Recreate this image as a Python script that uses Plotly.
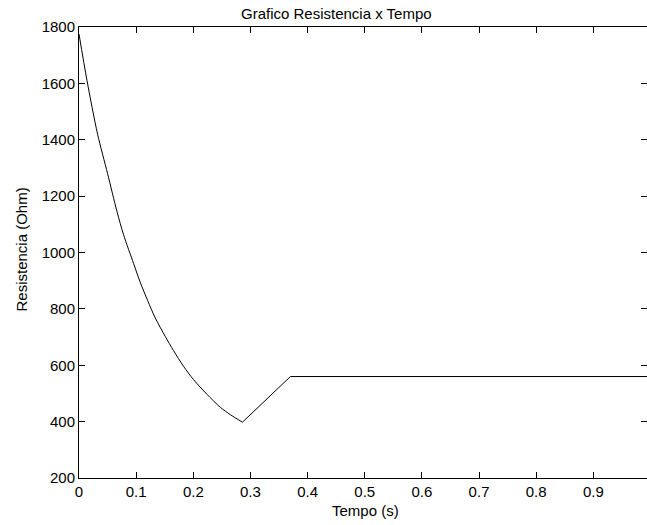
import plotly.graph_objects as go

# Data
# decaying part (t = 0 ... minimum)
tempo_queda = [0.0, 0.014, 0.0325, 0.05, 0.0665, 0.078, 0.0955, 0.107, 0.12, 0.1334,
               0.151, 0.1654, 0.183, 0.2004, 0.2239, 0.2472, 0.2646, 0.286]
resist_queda = [1775, 1610, 1420, 1280, 1145, 1063, 961, 895, 830, 768,
                702, 652, 596, 549, 497, 451, 425, 398]
# linear rise and plateau
tempo_subida = [0.286, 0.37, 0.999]
resist_subida = [398, 560, 560]

x_ticks = [0, 0.1, 0.2, 0.3, 0.4, 0.5, 0.6, 0.7, 0.8, 0.9]
x_tick_labels = ["0", "0.1", "0.2", "0.3", "0.4", "0.5", "0.6", "0.7", "0.8", "0.9"]
y_ticks = [200, 400, 600, 800, 1000, 1200, 1400, 1600, 1800]

W, H = 647, 525
L, R, T, B = 79, 0, 27, 47
FONT = "Liberation Sans, Arial, Helvetica, sans-serif"
FS = 15

fig = go.Figure()
fig.add_trace(go.Scatter(x=tempo_queda, y=resist_queda, mode="lines",
                         line=dict(color="black", width=1, shape="spline", smoothing=0.8),
                         showlegend=False, hoverinfo="skip"))
fig.add_trace(go.Scatter(x=tempo_subida, y=resist_subida, mode="lines",
                         line=dict(color="black", width=1),
                         showlegend=False, hoverinfo="skip"))
# invisible trace to activate the right-hand tick axis
fig.add_trace(go.Scatter(x=[tempo_subida[-1]], y=[resist_subida[-1]], yaxis="y2",
                         mode="markers", marker=dict(opacity=0), showlegend=False,
                         hoverinfo="skip"))

axis_common = dict(showgrid=False, zeroline=False, ticks="inside", ticklen=6,
                   tickwidth=1, tickcolor="black", linecolor="black", linewidth=1,
                   tickfont=dict(family=FONT, size=FS, color="black"))

fig.update_layout(
    width=W, height=H,
    margin=dict(l=L, r=R, t=T, b=B, pad=0),
    paper_bgcolor="white", plot_bgcolor="white",
    xaxis=dict(range=[0, 0.9939], tickvals=x_ticks, ticktext=x_tick_labels,
               showline=True, mirror="ticks", **axis_common),
    yaxis=dict(range=[200, 1800], tickvals=y_ticks, showline=True, mirror=False,
               **axis_common),
    yaxis2=dict(range=[200, 1800], tickvals=y_ticks, overlaying="y", side="right",
                showline=False, showticklabels=False, showgrid=False, zeroline=False,
                ticks="inside", ticklen=6, tickwidth=1, tickcolor="black"),
    annotations=[
        dict(text="Grafico Resistencia x Tempo", xref="paper", yref="paper",
             x=(336 - L) / (W - L - R), y=(H - B - 13) / (H - T - B),
             xanchor="center", yanchor="middle", showarrow=False,
             font=dict(family=FONT, size=FS, color="black")),
        dict(text="Tempo (s)", xref="paper", yref="paper",
             x=(365 - L) / (W - L - R), y=(H - B - 510) / (H - T - B),
             xanchor="center", yanchor="middle", showarrow=False,
             font=dict(family=FONT, size=FS, color="black")),
        dict(text="Resistencia (Ohm)", xref="paper", yref="paper", textangle=-90,
             x=(20.5 - L) / (W - L - R), y=(H - B - 250) / (H - T - B),
             xanchor="center", yanchor="middle", showarrow=False,
             font=dict(family=FONT, size=FS, color="black")),
    ],
)

fig.write_html("out.html")
